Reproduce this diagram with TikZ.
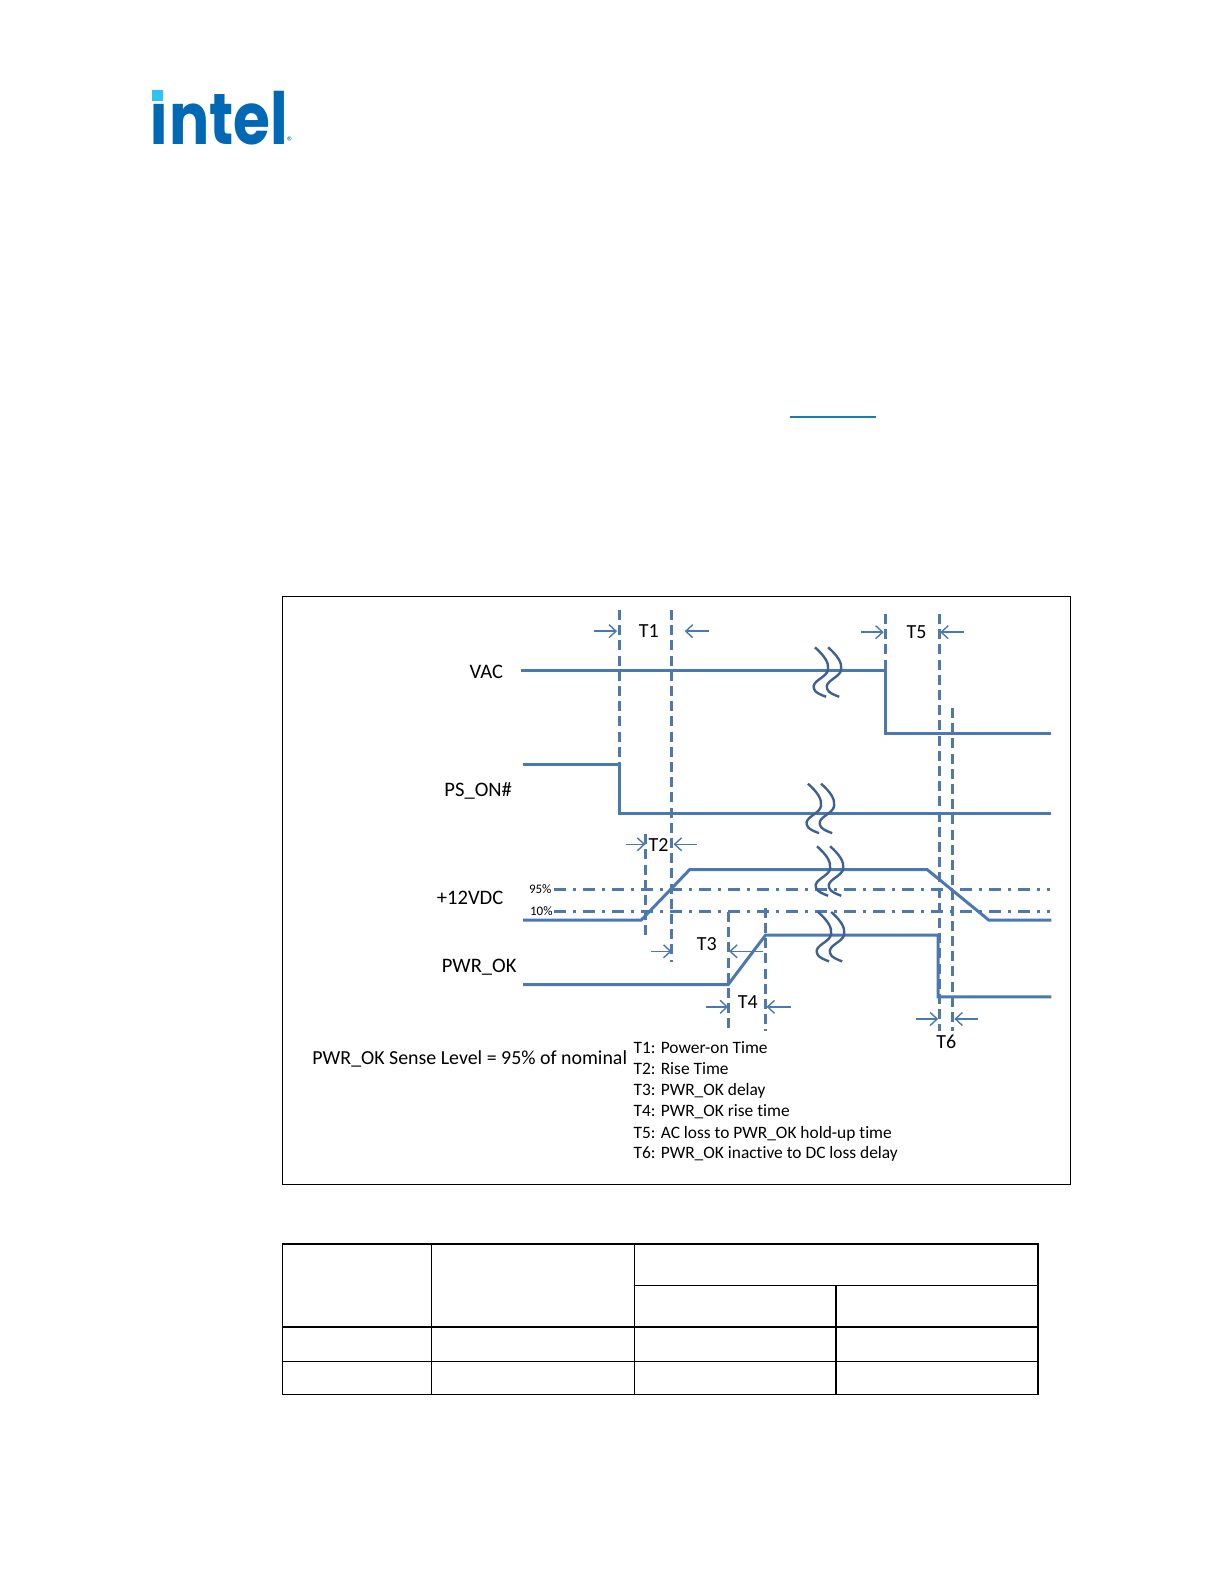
\documentclass[tikz,border=0pt]{standalone}
\usepackage{fontspec}
\setmainfont{Carlito}[Ligatures=CommonOff]
\newfontfamily\logofont{Poppins}[FakeStretch=.83]
\usetikzlibrary{arrows.meta}
\definecolor{sigblue}{HTML}{4A78B0}
\definecolor{dashblue}{HTML}{4F79AD}
\definecolor{wavedark}{HTML}{3F6190}
\definecolor{intelblue}{HTML}{0068B5}
\definecolor{intelcyan}{HTML}{2CC4F0}
\definecolor{linkblue}{HTML}{157FA6}
\tikzset{
  sigline/.style={draw=sigblue,line width=1.5pt,line join=miter},
  timeline/.style={draw=dashblue,line width=1.5pt,dash pattern=on 5pt off 2.6pt},
  levelline/.style={draw=dashblue,line width=1.4pt,dash pattern=on 6pt off 3.5pt on 1.5pt off 3.5pt},
  dimarrow/.style={draw=sigblue,line width=.7pt,-{Straight Barb[length=3.5pt,width=6.5pt]}},
  wavemark/.style={draw=wavedark,line width=1.2pt},
  siglabel/.style={font=\fontsize{10.3}{12}\selectfont,inner sep=0pt},
  tlabel/.style={font=\fontsize{10}{12}\selectfont,inner sep=0pt},
  smalllabel/.style={font=\fontsize{6.5}{8}\selectfont,inner sep=0pt},
  keytext/.style={font=\fontsize{8.7}{10}\selectfont,inner sep=0pt,anchor=base west},
  tabrule/.style={draw=black,line width=.7pt}
}
\newcommand{\wavepair}[2]{%
  \draw[wavemark](#1,#2)..controls(#1+9,#2+8)and(#1+14,#2+15)..(#1+13,#2+22)..controls(#1+12,#2+30)and(#1-4,#2+33)..(#1-1,#2+41)..controls(#1,#2+45)and(#1+6,#2+47)..(#1+11,#2+49);
  \draw[wavemark](#1+13,#2)..controls(#1+22,#2+8)and(#1+27,#2+15)..(#1+26,#2+22)..controls(#1+25,#2+30)and(#1+9,#2+33)..(#1+12,#2+41)..controls(#1+13,#2+45)and(#1+19,#2+47)..(#1+24,#2+49);
}
\begin{document}
\begin{tikzpicture}[x=.505pt,y=-.505pt]
  \useasboundingbox(0,-1)rectangle(1212,1567.5);
  % logo
  \node[font=\logofont\fontsize{36}{40}\bfseries,text=intelblue,inner sep=0pt,anchor=base west](logotext)at(148,142){ıntel};
  \fill[intelcyan](151,88)rectangle(161,99);
  \node[font=\fontsize{7}{8}\selectfont,text=intelblue,inner sep=0pt](logomark)at(287.5,139){®};
  \draw[draw=linkblue,line width=.7pt](782,412)--(867,412);
  % frame
  \draw[line width=.5pt](280,590)rectangle(1060,1172);
  % time marks
  \draw[timeline](613,603)--(613,756);
  \draw[timeline](665,603)--(665,952);
  \draw[timeline](639,825)--(639,927);
  \draw[timeline](721,902)--(721,1020);
  \draw[timeline](758,898)--(758,1020);
  \draw[timeline](877,607)--(877,663);
  \draw[timeline](930,607)--(930,1020);
  \draw[timeline](943,700)--(943,1020);
  \draw[levelline](549,880)--(1040,880);
  \draw[levelline](549,901.6)--(1040,901.6);
  % signals
  \draw[sigline](516,663)--(877,663)--(877,725)--(1041,725);
  \draw[sigline](518,756)--(613,756)--(613,805)--(1041,805);
  \draw[sigline](518,910)--(635,910)--(683,860)--(918,860)--(979,910)--(1041,910);
  \draw[sigline](518,974)--(721,974)--(758,925)--(929,925)--(929,986)--(1041,986);
  \wavepair{807}{640}
  \wavepair{800}{775}
  \wavepair{809}{837}
  \wavepair{810}{902}
  % arrows
  \draw[dimarrow](588,624)--(611,624);
  \draw[dimarrow](702,624)--(678,624);
  \draw[dimarrow](853,625)--(875,625);
  \draw[dimarrow](955,625)--(931,625);
  \draw[dimarrow](620,835)--(639,835);
  \draw[dimarrow](690,835)--(667,835);
  \draw[dimarrow](645,941)--(665,941);
  \draw[dimarrow](756,941)--(722,941);
  \draw[dimarrow](699,996)--(721,996);
  \draw[dimarrow](783,996)--(759,996);
  \draw[dimarrow](907,1008)--(929,1008);
  \draw[dimarrow](968,1008)--(945,1008);
  % labels
  \node[tlabel](tOne)at(642.5,624){T1};
  \node[tlabel](tTwo)at(652,836){T2};
  \node[tlabel](tThree)at(700,934){T3};
  \node[tlabel](tFour)at(740.5,991){T4};
  \node[tlabel](tFive)at(907.5,625){T5};
  \node[tlabel](tSix)at(937,1031){T6};
  \node[siglabel](vac)at(481.5,664){VAC};
  \node[siglabel](pson)at(473.5,782){PS\_ON\#};
  \node[siglabel](dcrail)at(465.5,888){+12VDC};
  \node[siglabel](pwrok)at(474.5,957){PWR\_OK};
  \node[smalllabel](highlevel)at(535,879){95\%};
  \node[smalllabel](lowlevel)at(536,901){10\%};
  \node[siglabel,anchor=west,font=\fontsize{9.95}{12}\selectfont](senselevel)at(309,1048){PWR\_OK Sense Level = 95\% of nominal};
  \node[keytext](keyOne)at(627,1042){T1: Power-on Time};
  \node[keytext](keyTwo)at(627,1063){T2: Rise Time};
  \node[keytext](keyThree)at(627,1084){T3: PWR\_OK delay};
  \node[keytext](keyFour)at(627,1105){T4: PWR\_OK rise time};
  \node[keytext](keyFive)at(627,1126){T5: AC loss to PWR\_OK hold-up time};
  \node[keytext](keySix)at(627,1146){T6: PWR\_OK inactive to DC loss delay};
  % table
  \draw[tabrule](280,1231)rectangle(1028,1380);
  \draw[tabrule](427,1231)--(427,1380);
  \draw[tabrule](628,1231)--(628,1380);
  \draw[tabrule](828,1272)--(828,1380);
  \draw[tabrule](628,1272)--(1028,1272);
  \draw[tabrule](280,1313)--(1028,1313);
  \draw[tabrule](280,1347)--(1028,1347);
\end{tikzpicture}
\end{document}
